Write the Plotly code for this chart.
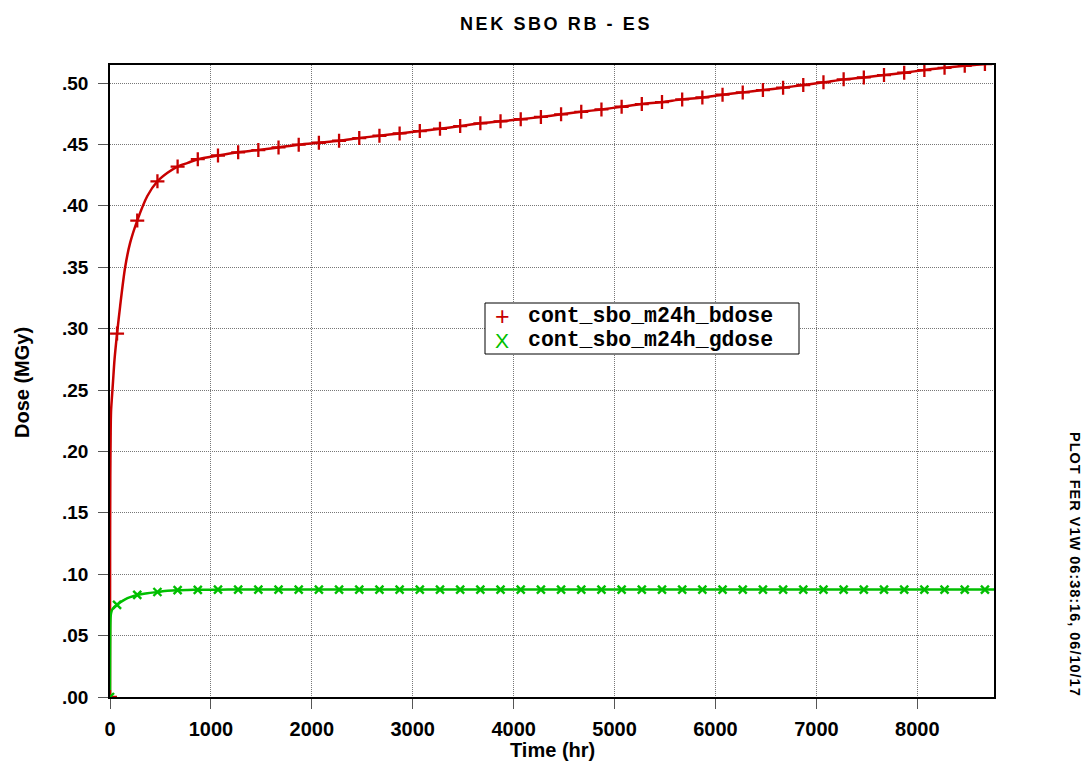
import plotly.graph_objects as go

# ---- data ----
time_hr = [0, 1, 3, 6, 10, 20, 30, 45, 70, 100, 150, 200, 270, 370, 470, 570, 670, 770, 870,
           1070, 1270, 1470, 1670, 1870, 2070, 2270, 2470, 2670, 2870, 3070, 3270, 3470, 3670,
           3870, 4070, 4270, 4470, 4670, 4870, 5070, 5270, 5470, 5670, 5870, 6070, 6270, 6470,
           6670, 6870, 7070, 7270, 7470, 7670, 7870, 8070, 8270, 8470, 8670, 8760]

bdose = [0.0, 0.12, 0.18, 0.21, 0.232, 0.245, 0.257, 0.275, 0.296, 0.318, 0.350, 0.370, 0.388,
         0.408, 0.420, 0.427, 0.432, 0.435, 0.438,
         0.441, 0.4436, 0.4454, 0.4476, 0.4498, 0.4514, 0.4530, 0.4552, 0.4571, 0.4590, 0.4609,
         0.4628, 0.4650, 0.4672, 0.4688, 0.4705, 0.4724, 0.4745, 0.4766, 0.4785, 0.4807, 0.4829,
         0.4845, 0.4867, 0.4883, 0.4905, 0.4924, 0.4943, 0.4962, 0.4984, 0.5006, 0.5030, 0.5046,
         0.5065, 0.5084, 0.5106, 0.5124, 0.5140, 0.5155, 0.5162]

gdose = [0.0, 0.03, 0.055, 0.065, 0.068, 0.071, 0.072, 0.0735, 0.075, 0.077, 0.0795, 0.0813,
         0.0831, 0.0845, 0.0855, 0.0865, 0.087, 0.0872, 0.0873,
         0.0874, 0.0875, 0.0875, 0.0875, 0.0875, 0.0875, 0.0875, 0.0875, 0.0875, 0.0875, 0.0875,
         0.0875, 0.0875, 0.0875, 0.0875, 0.0875, 0.0875, 0.0875, 0.0875, 0.0875, 0.0875, 0.0875,
         0.0875, 0.0875, 0.0875, 0.0875, 0.0875, 0.0875, 0.0875, 0.0875, 0.0875, 0.0875, 0.0875,
         0.0875, 0.0875, 0.0875, 0.0875, 0.0875, 0.0875, 0.0875]

marker_hr = [0, 70, 270, 470, 670, 870, 1070, 1270, 1470, 1670, 1870, 2070, 2270, 2470, 2670,
             2870, 3070, 3270, 3470, 3670, 3870, 4070, 4270, 4470, 4670, 4870, 5070, 5270, 5470,
             5670, 5870, 6070, 6270, 6470, 6670, 6870, 7070, 7270, 7470, 7670, 7870, 8070, 8270,
             8470, 8670]

x_ticks = [0, 1000, 2000, 3000, 4000, 5000, 6000, 7000, 8000]
y_ticks = [0.0, 0.05, 0.10, 0.15, 0.20, 0.25, 0.30, 0.35, 0.40, 0.45, 0.50]
y_ticktext = [".00", ".05", ".10", ".15", ".20", ".25", ".30", ".35", ".40", ".45", ".50"]

names = ["cont_sbo_m24h_bdose", "cont_sbo_m24h_gdose"]
legend_symbols = ["+", "X"]
title_text = "NEK SBO RB - ES"
side_text = "PLOT FER V1W 06:38:16, 06/10/17"

RED = "#c80000"
GREEN = "#00bf00"
SANS = "Liberation Sans, Arial, sans-serif"
MONO = "Liberation Mono, Courier New, monospace"

W, H = 1089, 762
L, R, T, B = 110, 994, 65, 697  # plot area in pixels


def px(xp):
    return (xp - L) / (R - L)


def py(yp):
    return (B - yp) / (B - T)


b_lookup = dict(zip(time_hr, bdose))
g_lookup = dict(zip(time_hr, gdose))

fig = go.Figure()

fig.add_trace(go.Scatter(x=time_hr, y=bdose, mode="lines",
                         line=dict(color=RED, width=2.5, shape="spline", smoothing=0.8),
                         showlegend=False, hoverinfo="skip"))
fig.add_trace(go.Scatter(x=time_hr, y=gdose, mode="lines",
                         line=dict(color=GREEN, width=2.5, shape="spline", smoothing=0.8),
                         showlegend=False, hoverinfo="skip"))
fig.add_trace(go.Scatter(x=marker_hr, y=[b_lookup[t] for t in marker_hr], mode="markers",
                         name=names[0], showlegend=False,
                         marker=dict(symbol="cross-thin", size=10, color=RED,
                                     line=dict(color=RED, width=2.3))))
fig.add_trace(go.Scatter(x=marker_hr, y=[g_lookup[t] for t in marker_hr], mode="markers",
                         name=names[1], showlegend=False,
                         marker=dict(symbol="x-thin", size=8, color=GREEN,
                                     line=dict(color=GREEN, width=2.4))))

tickfont = dict(family=SANS, size=19, color="black", weight="bold")

annotations = [
    dict(text="Time (hr)", xref="paper", yref="paper", x=0.5, y=py(750),
         xanchor="center", yanchor="middle", showarrow=False,
         font=dict(family=SANS, size=20, color="black", weight="bold")),
    dict(text="Dose (MGy)", xref="paper", yref="paper", x=px(22), y=py(383),
         xanchor="center", yanchor="middle", showarrow=False, textangle=-90,
         font=dict(family=SANS, size=20, color="black", weight="bold")),
    dict(text='<span style="letter-spacing:1px">' + side_text + "</span>",
         xref="paper", yref="paper", x=px(1075), y=py(564),
         xanchor="center", yanchor="middle", showarrow=False, textangle=90,
         font=dict(family=SANS, size=14.5, color="black", weight="bold")),
    dict(text='<span style="letter-spacing:2.6px">' + title_text + "</span>",
         xref="paper", yref="paper", x=px(556), y=py(24),
         xanchor="center", yanchor="middle", showarrow=False,
         font=dict(family=SANS, size=18, color="black", weight="bold")),
]

# legend (box + symbol + name)
legend_rows = [316, 340]
legend_colors = [RED, GREEN]
legend_sizes = [25, 21]
for i in range(2):
    annotations.append(dict(text=legend_symbols[i], xref="paper", yref="paper",
                            x=px(502), y=py(legend_rows[i]), xanchor="center", yanchor="middle",
                            showarrow=False,
                            font=dict(family=SANS, size=legend_sizes[i], color=legend_colors[i])))
    annotations.append(dict(text=names[i], xref="paper", yref="paper",
                            x=px(526), y=py(legend_rows[i]), xanchor="left", yanchor="middle",
                            showarrow=False,
                            font=dict(family=MONO, size=21.5, color="black", weight="bold")))

shapes = [dict(type="rect", xref="paper", yref="paper", x0=px(485), x1=px(799),
               y0=py(354), y1=py(303), line=dict(color="black", width=1),
               fillcolor="white", layer="above")]

fig.update_layout(
    width=W, height=H,
    margin=dict(l=L, r=W - R, t=T, b=H - B),
    paper_bgcolor="white", plot_bgcolor="white",
    showlegend=False,
    xaxis=dict(range=[0, 8760], tickvals=x_ticks, tickfont=dict(tickfont, size=20),
               showline=True, linecolor="black", linewidth=1.5, mirror=True,
               ticks="outside", ticklen=10, tickcolor="#555555", tickwidth=1,
               showgrid=True, gridcolor="#777777", griddash="1px,1px", gridwidth=1,
               zeroline=False, ticklabelstandoff=3),
    yaxis=dict(range=[0, 0.5147], tickvals=y_ticks, ticktext=y_ticktext, tickfont=tickfont,
               showline=True, linecolor="black", linewidth=1.5, mirror=True,
               ticks="outside", ticklen=10, tickcolor="#555555", tickwidth=1,
               showgrid=True, gridcolor="#777777", griddash="1px,1px", gridwidth=1,
               zeroline=False, ticklabelstandoff=6),
    annotations=annotations,
    shapes=shapes,
)

fig.write_html("out.html", config={"displayModeBar": False},
               post_script="document.body.style.margin='0px';document.body.style.overflow='hidden';")
